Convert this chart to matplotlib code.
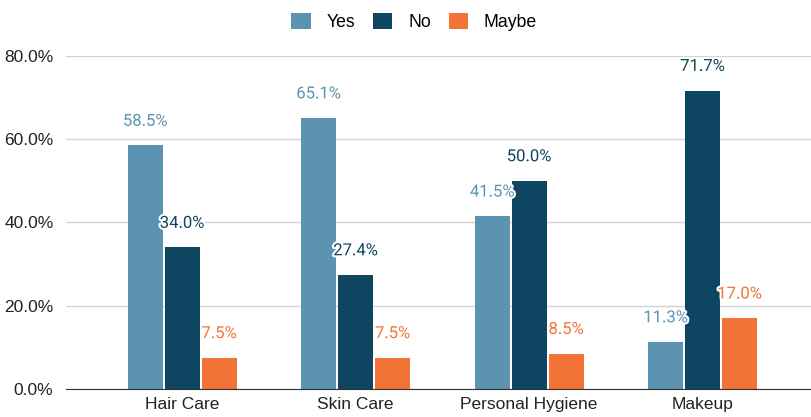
import matplotlib.pyplot as plt
import matplotlib.patheffects as pe
from matplotlib.ticker import FuncFormatter

categories = ["Hair Care", "Skin Care", "Personal Hygiene", "Makeup"]
series_names = ["Yes", "No", "Maybe"]
yes_vals = [58.5, 65.1, 41.5, 11.3]
no_vals = [34.0, 27.4, 50.0, 71.7]
maybe_vals = [7.5, 7.5, 8.5, 17.0]
colors = ["#5b93b1", "#0e4560", "#f37236"]

plt.rcParams['font.family'] = ['Liberation Sans', 'DejaVu Sans']

fig = plt.figure(figsize=(8.12, 4.17), dpi=100)
ax = fig.add_axes([66 / 812, 1 - 389 / 417, 1 - 66 / 812, (389 - 56) / 417])

width = 0.2017
step = 0.2133
x = list(range(len(categories)))

for i, (name, vals, col) in enumerate(zip(series_names, [yes_vals, no_vals, maybe_vals], colors)):
    offset = (i - 1) * step
    xs = [xi + offset for xi in x]
    ax.bar(xs, vals, width=width, color=col, label=name, zorder=3)
    for xv, v in zip(xs, vals):
        ax.annotate(f"{v:.1f}%", (xv, v), xytext=(0, 12), textcoords="offset points",
                    ha="center", va="bottom", color=col, fontsize=12, family="Roboto",
                    zorder=5,
                    path_effects=[pe.withStroke(linewidth=3, foreground="white")])

ax.set_ylim(0, 80)
ax.set_xlim(-0.669, 3.631)
ax.set_yticks([0, 20, 40, 60, 80])
ax.yaxis.set_major_formatter(FuncFormatter(lambda v, p: f"{v:.1f}%"))
ax.set_xticks(x)
ax.set_xticklabels(categories)
ax.tick_params(axis="both", length=0, labelsize=12.5, colors="#222222")
ax.tick_params(axis="y", pad=9)
ax.tick_params(axis="x", pad=6)
ax.grid(axis="y", color="#d3d3d3", linewidth=1, zorder=0)
for s in ["top", "right", "left"]:
    ax.spines[s].set_visible(False)
ax.spines["bottom"].set_color("#333333")
ax.spines["bottom"].set_zorder(4)

fig.legend(loc="upper center", bbox_to_anchor=(0.51, 1.008), ncol=3, frameon=False,
           fontsize=12.7, handlelength=1.1, handleheight=1.1, columnspacing=1.0,
           handletextpad=0.9)

fig.savefig("out.png", dpi=100)
